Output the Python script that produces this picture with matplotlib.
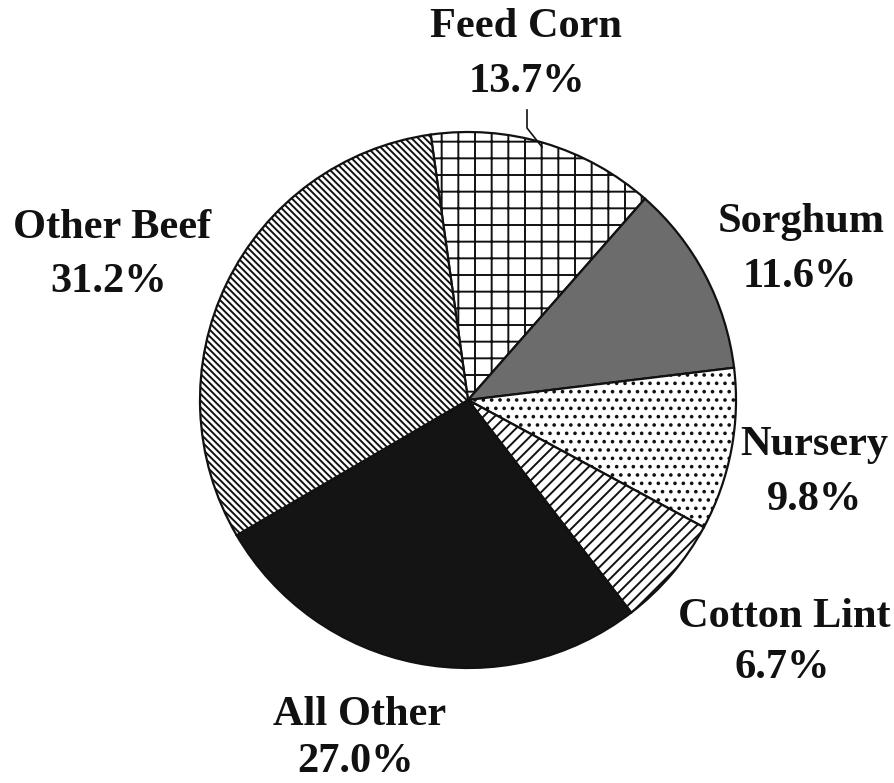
import matplotlib.pyplot as plt

labels = ['Feed Corn', 'Sorghum', 'Nursery', 'Cotton Lint', 'All Other', 'Other Beef']
shares = [13.7, 11.6, 9.8, 6.7, 27.0, 31.2]
colors = ['white', '#6c6c6c', 'white', 'white', '#141414', 'white']
hatches = ['+', '', '..', '///', '', '\\\\\\\\\\']

W, H = 895, 783
plt.rcParams['hatch.linewidth'] = 1.4
plt.rcParams['hatch.color'] = '#111111'

fig = plt.figure(figsize=(W / 100, H / 100), dpi=100)
ax = fig.add_axes([0, 0, 1, 1])

wedges, _ = ax.pie(shares, colors=colors, startangle=98, counterclock=False,
                   center=(468, H - 400), radius=268,
                   wedgeprops=dict(edgecolor='#111111', linewidth=1.6))
for w, h in zip(wedges, hatches):
    w.set_hatch(h)

ax.set_xlim(0, W)
ax.set_ylim(0, H)
ax.set_aspect('equal')
ax.axis('off')

# label centres / baselines (pixel coords, y from top)
pos = {
    'Feed Corn': (526, 37, 527, 92),
    'Sorghum': (801, 232, 800, 287),
    'Nursery': (814, 455, 815, 510),
    'Cotton Lint': (784, 627, 782, 678),
    'All Other': (360, 725, 356, 772),
    'Other Beef': (112, 238, 109, 292),
}
font = dict(family='Liberation Serif', fontweight='bold', fontsize=30.5, color='#111111',
            ha='center', va='baseline')
for lab, val in zip(labels, shares):
    x1, y1, x2, y2 = pos[lab]
    ax.text(x1, H - y1, lab, **font)
    ax.text(x2, H - y2, f'{val:.1f}%', **font)

# leader line for Feed Corn
ax.plot([527, 527, 542], [H - 110, H - 128, H - 147], color='#111111', lw=1.2)

fig.savefig('out.png', dpi=100)
